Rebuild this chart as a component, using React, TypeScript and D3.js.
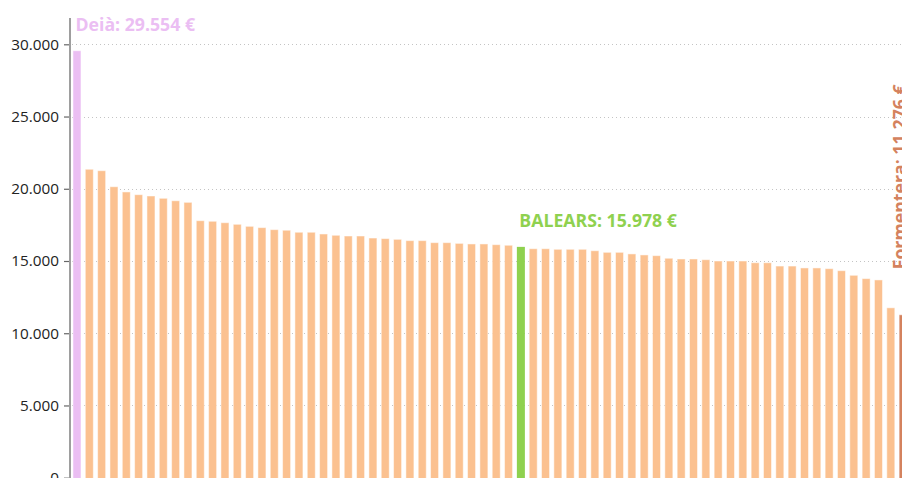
import { useEffect, useRef } from 'react';
import * as d3 from 'd3';

// renda per càpita per municipi (ordenat), BALEARS = mitjana
const municipis = [
  'Deià', 'm01', 'm02', 'm03', 'm04', 'm05', 'm06', 'm07', 'm08', 'm09',
  'm10', 'm11', 'm12', 'm13', 'm14', 'm15', 'm16', 'm17', 'm18', 'm19',
  'm20', 'm21', 'm22', 'm23', 'm24', 'm25', 'm26', 'm27', 'm28', 'm29',
  'm30', 'm31', 'm32', 'm33', 'm34', 'm35', 'BALEARS', 'm37', 'm38', 'm39',
  'm40', 'm41', 'm42', 'm43', 'm44', 'm45', 'm46', 'm47', 'm48', 'm49',
  'm50', 'm51', 'm52', 'm53', 'm54', 'm55', 'm56', 'm57', 'm58', 'm59',
  'm60', 'm61', 'm62', 'm63', 'm64', 'm65', 'm66', 'Formentera',
];

const renda = [
  29554, 21350, 21250, 20140, 19780, 19590, 19500, 19340, 19170, 19060,
  17790, 17750, 17650, 17540, 17400, 17310, 17170, 17130, 16990, 16990,
  16870, 16780, 16730, 16730, 16590, 16550, 16500, 16410, 16410, 16270,
  16270, 16220, 16180, 16180, 16130, 16090, 15978, 15850, 15850, 15810,
  15810, 15810, 15710, 15600, 15600, 15490, 15420, 15370, 15190, 15140,
  15140, 15090, 15000, 15000, 15000, 14880, 14880, 14650, 14650, 14520,
  14520, 14470, 14330, 14010, 13780, 13690, 11760, 11276,
];

const yTicks = [0, 5000, 10000, 15000, 20000, 25000, 30000];

const destacats = ['Deià', 'BALEARS', 'Formentera'];
const colors: Record<string, string> = {
  Deià: '#ebbef3',
  BALEARS: '#8fd14f',
  Formentera: '#d4825e',
};
const defaultColor = '#fbc190';

const fmt = (v: number) => d3.format(',')(v).replace(/,/g, '.');

export default function App() {
  const svgRef = useRef<SVGSVGElement>(null);

  useEffect(() => {
    const svg = d3.select(svgRef.current);
    svg.selectAll('*').remove();

    const data = municipis.map((name, i) => ({ name, value: renda[i] }));

    const x = d3.scaleBand<string>()
      .domain(municipis)
      .range([70.5, 909.6])
      .paddingInner(0.35)
      .paddingOuter(0.2);

    const y = d3.scaleLinear().domain([0, 30000]).range([477.7, 44.3]);

    // grid
    svg.append('g')
      .selectAll('line')
      .data(yTicks.filter(t => t > 0))
      .enter()
      .append('line')
      .attr('x1', 72)
      .attr('x2', 902)
      .attr('y1', d => Math.round(y(d)) + 0.5)
      .attr('y2', d => Math.round(y(d)) + 0.5)
      .attr('stroke', '#c4c4c4')
      .attr('stroke-dasharray', '1,3');

    // bars
    svg.append('g')
      .selectAll('rect')
      .data(data)
      .enter()
      .append('rect')
      .attr('x', d => x(d.name)!)
      .attr('y', d => y(d.value))
      .attr('width', x.bandwidth())
      .attr('height', d => y(0) - y(d.value) + 20)
      .attr('fill', d => colors[d.name] || defaultColor)
      .attr('stroke', d => (d.name === 'BALEARS' ? 'none' : '#ffffff'))
      .attr('stroke-opacity', 0.5)
      .attr('stroke-width', 1);

    // y axis
    const axis = svg.append('g')
      .attr('transform', 'translate(70,0)')
      .call(d3.axisLeft(y).tickValues(yTicks).tickSize(6).tickPadding(5).tickFormat(d => fmt(+d)));
    axis.select('.domain').remove();
    axis.selectAll('.tick line').attr('stroke', '#666').attr('stroke-width', 1.2);
    axis.selectAll('.tick text')
      .attr('fill', '#222')
      .attr('font-size', 15.3)
      .attr('font-family', '"Open Sans", sans-serif');
    svg.append('line')
      .attr('x1', 70).attr('x2', 70)
      .attr('y1', 18).attr('y2', 478)
      .attr('stroke', '#9e9e9e')
      .attr('stroke-width', 2);

    // labels
    const labelled = data.filter(d => destacats.includes(d.name));
    svg.append('g')
      .selectAll('text')
      .data(labelled)
      .enter()
      .append('text')
      .attr('transform', d => d.name === 'Formentera'
        ? `translate(${x(d.name)! + 7},${y(d.value) - 45.5}) rotate(-90)`
        : `translate(${x(d.name)! + 2.5},${y(d.value) - 19.8})`)
      .attr('fill', d => colors[d.name])
      .attr('font-family', '"Open Sans", sans-serif')
      .attr('font-weight', 'bold')
      .attr('font-size', 17.7)
      .text(d => `${d.name}: ${fmt(d.value)} €`);
  }, []);

  return (
    <svg
      ref={svgRef}
      width={902}
      height={478}
      style={{ position: 'absolute', left: 0, top: 0, background: '#fff' }}
    />
  );
}
